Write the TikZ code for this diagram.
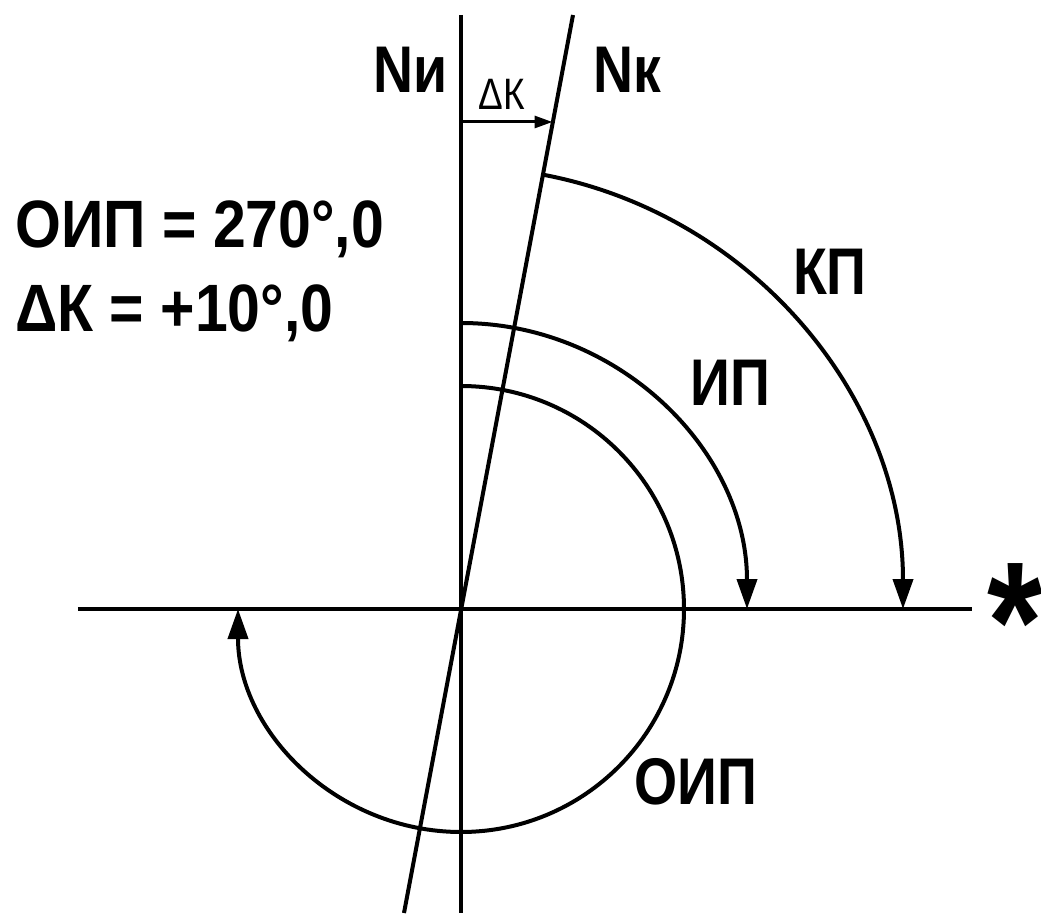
\documentclass[tikz,border=0pt]{standalone}
\usepackage{fontspec}
\setmainfont{Liberation Sans}[FakeStretch=0.84]
\newfontfamily\widefont{Liberation Sans}[FakeStretch=0.88]
\usetikzlibrary{arrows.meta}
\begin{document}
\begin{tikzpicture}[x=1pt,y=1pt,
  ln/.style={line width=4pt,line cap=butt},
  arr/.style={ln,-{Triangle[length=30pt,width=20pt]}},
  big/.style={inner sep=0pt,font=\bfseries\fontsize{66}{70}\selectfont},
  wide/.style={inner sep=0pt,font=\widefont\bfseries\fontsize{67}{70}\selectfont},
  small/.style={inner sep=0pt,font=\fontsize{44}{48}\selectfont}]
\useasboundingbox (-461,-304) rectangle (580,609);
\fill[white] (-461,-304) rectangle (580,609);
% axes
\coordinate (O) at (0,0);
\coordinate (NiTop) at (0,594);
\coordinate (NiBot) at (0,-304);
\coordinate (HL) at (-383,0);
\coordinate (HR) at (511,0);
\coordinate (NkTop) at (112,594);
\coordinate (NkBot) at (-57,-304);
\draw[ln] (NiTop) -- (NiBot);
\draw[ln] (HL) -- (HR);
\draw[ln] (NkBot) -- (NkTop);
% Delta K arrow
\coordinate (dA) at (0,487);
\coordinate (dB) at (91.5,487);
\draw[ln,line width=3pt,-{Triangle[length=18pt,width=12pt]}] (dA) -- (dB);
\node[small] (dk) at (41,515) {ΔК};
% arcs
\draw[arr] (79.4:442) arc[start angle=79.4,end angle=0,radius=442];
\draw[arr] (90:286) arc[start angle=90,end angle=0,radius=286];
\draw[arr] (90:223) arc[start angle=90,end angle=-180,radius=223];
% labels
\node[big] (ni) at (-50,539) {Nи};
\node[big] (nk) at (166,539) {Nк};
\node[wide,anchor=base west] (t1) at (-446,361) {ОИП = 270°,0};
\node[wide,anchor=base west] (t2) at (-446,277) {ΔК = +10°,0};
\node[big] (kp) at (369,337) {КП};
\node[big] (ip) at (269,226) {ИП};
\node[big] (oip) at (235,-173) {ОИП};
\node[inner sep=0pt,anchor=base,font=\bfseries\fontsize{170}{170}\selectfont] (star) at (554,-71) {*};
\end{tikzpicture}
\end{document}
